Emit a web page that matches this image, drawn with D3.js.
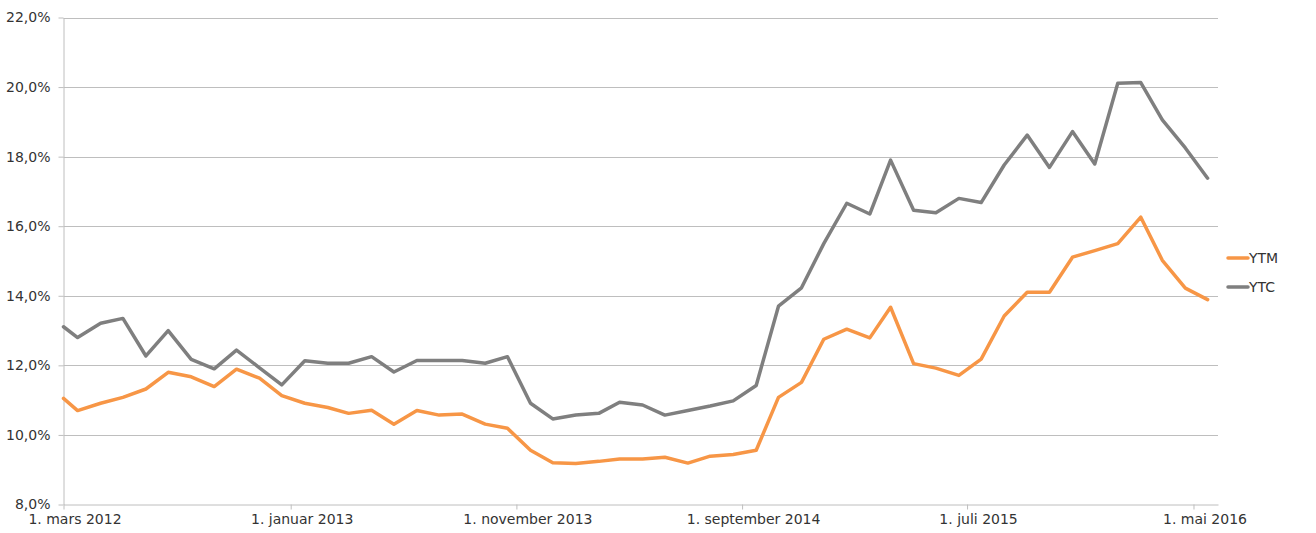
<!DOCTYPE html>
<html>
<head>
<meta charset="utf-8">
<script src="https://cdn.jsdelivr.net/npm/d3@7"></script>
<style>
    body { margin: 0; background: #fff; }
    text { font-family: "DejaVu Sans", sans-serif; }
</style>
</head>
<body>
<div id="chart-area"></div>
<script>
// Observation dates (first value at start of axis, then around the 20th each month)
const dates = [
    "2012-03-01", "2012-03-20", "2012-04-20", "2012-05-20", "2012-06-20", "2012-07-20",
    "2012-08-20", "2012-09-20", "2012-10-20", "2012-11-20", "2012-12-20", "2013-01-20",
    "2013-02-20", "2013-03-20", "2013-04-20", "2013-05-20", "2013-06-20", "2013-07-20",
    "2013-08-20", "2013-09-20", "2013-10-20", "2013-11-20", "2013-12-20", "2014-01-20",
    "2014-02-20", "2014-03-20", "2014-04-20", "2014-05-20", "2014-06-20", "2014-07-20",
    "2014-08-20", "2014-09-20", "2014-10-20", "2014-11-20", "2014-12-20", "2015-01-20",
    "2015-02-20", "2015-03-20", "2015-04-20", "2015-05-20", "2015-06-20", "2015-07-20",
    "2015-08-20", "2015-09-20", "2015-10-20", "2015-11-20", "2015-12-20", "2016-01-20",
    "2016-02-20", "2016-03-20", "2016-04-20", "2016-05-20"
];

// Yields in percent
const ytm = [
    11.05, 10.70, 10.91, 11.08, 11.32, 11.80, 11.67, 11.39, 11.89, 11.63,
    11.13, 10.91, 10.79, 10.62, 10.71, 10.31, 10.70, 10.57, 10.60, 10.31,
    10.19, 9.56, 9.20, 9.18, 9.24, 9.31, 9.31, 9.36, 9.19, 9.39,
    9.44, 9.56, 11.08, 11.51, 12.75, 13.04, 12.79, 13.67, 12.05, 11.92,
    11.71, 12.18, 13.42, 14.10, 14.10, 15.11, 15.30, 15.50, 16.26, 15.02,
    14.22, 13.89
];
const ytc = [
    13.11, 12.80, 13.21, 13.35, 12.27, 13.00, 12.17, 11.90, 12.44, 11.93,
    11.44, 12.13, 12.06, 12.06, 12.25, 11.81, 12.14, 12.14, 12.14, 12.06,
    12.25, 10.91, 10.46, 10.57, 10.62, 10.94, 10.86, 10.57, 10.70, 10.83,
    10.98, 11.42, 13.70, 14.23, 15.50, 16.66, 16.35, 17.90, 16.46, 16.39,
    16.80, 16.68, 17.76, 18.62, 17.69, 18.72, 17.79, 20.11, 20.13, 19.06,
    18.25, 17.38
];

const seriesNames = ["YTM", "YTC"];
const seriesColors = ["#F79646", "#7F7F7F"];

const xTickDates = ["2012-03-01", "2013-01-01", "2013-11-01", "2014-09-01", "2015-07-01", "2016-05-01"];
const xDomain = ["2012-03-01", "2016-06-03"];
const yTicks = [8, 10, 12, 14, 16, 18, 20, 22];
const monthNames = ["januar", "februar", "mars", "april", "mai", "juni",
    "juli", "august", "september", "oktober", "november", "desember"];

class YieldChart {
    constructor(element) {
        this.parentElement = element;
        this.initVis();
    }

    initVis() {
        const vis = this;
        const parse = d3.utcParse("%Y-%m-%d");

        vis.WIDTH = 1316;
        vis.HEIGHT = 533;
        vis.PLOT = { LEFT: 63.5, RIGHT: 1218, TOP: 17.5, BOTTOM: 504.5 };

        vis.svg = d3.select(vis.parentElement).append("svg")
            .attr("width", vis.WIDTH)
            .attr("height", vis.HEIGHT);

        vis.x = d3.scaleUtc()
            .domain(xDomain.map(parse))
            .range([vis.PLOT.LEFT, vis.PLOT.RIGHT]);
        vis.y = d3.scaleLinear()
            .domain([8, 22])
            .range([vis.PLOT.BOTTOM, vis.PLOT.TOP]);

        // gridlines
        vis.svg.append("g")
            .selectAll("line")
            .data(yTicks.slice(1))
            .join("line")
            .attr("x1", vis.PLOT.LEFT)
            .attr("x2", vis.PLOT.RIGHT)
            .attr("y1", d => Math.round(vis.y(d)) + 0.5)
            .attr("y2", d => Math.round(vis.y(d)) + 0.5)
            .attr("stroke", "#BEBEBE")
            .attr("stroke-width", 1);

        // y axis
        const yAxis = d3.axisLeft(vis.y)
            .tickValues(yTicks)
            .tickSize(5)
            .tickSizeOuter(0)
            .tickPadding(8)
            .tickFormat(d => d.toFixed(1).replace(".", ",") + "%");
        vis.yAxisGroup = vis.svg.append("g")
            .attr("transform", `translate(${vis.PLOT.LEFT}, 0)`)
            .call(yAxis);

        // x axis
        const fmt = d => `1. ${monthNames[d.getUTCMonth()]} ${d.getUTCFullYear()}`;
        const xAxis = d3.axisBottom(vis.x)
            .tickValues(xTickDates.map(parse))
            .tickSize(5)
            .tickSizeOuter(0)
            .tickPadding(5)
            .tickFormat(fmt);
        vis.xAxisGroup = vis.svg.append("g")
            .attr("transform", `translate(0, ${vis.PLOT.BOTTOM})`)
            .call(xAxis);
        vis.xAxisGroup.selectAll("text").attr("dx", 11);

        [vis.xAxisGroup, vis.yAxisGroup].forEach(g => {
            g.select(".domain").attr("stroke", "#BEBEBE");
            g.selectAll(".tick line").attr("stroke", "#BEBEBE");
            g.selectAll("text")
                .attr("fill", "#333")
                .style("font-size", "14px")
                .style("font-family", "'DejaVu Sans', sans-serif");
        });

        // lines
        const series = [ytm, ytc].map((vals, i) => ({
            name: seriesNames[i],
            color: seriesColors[i],
            values: vals.map((v, j) => ({ date: parse(dates[j]), value: v }))
        }));

        vis.line = d3.line()
            .x(d => vis.x(d.date))
            .y(d => vis.y(d.value));

        vis.svg.selectAll(".series")
            .data(series)
            .join("path")
            .attr("class", "series")
            .attr("d", d => vis.line(d.values))
            .attr("fill", "none")
            .attr("stroke", d => d.color)
            .attr("stroke-width", 3.5)
            .attr("stroke-linejoin", "round")
            .attr("stroke-linecap", "round");

        // legend
        const legend = vis.svg.selectAll(".legend")
            .data(series)
            .join("g")
            .attr("class", "legend")
            .attr("transform", (d, i) => `translate(1228, ${258 + i * 29})`);
        legend.append("line")
            .attr("x1", 0)
            .attr("x2", 20)
            .attr("stroke", d => d.color)
            .attr("stroke-width", 3.5)
            .attr("stroke-linecap", "round");
        legend.append("text")
            .attr("x", 21)
            .attr("dy", "0.36em")
            .attr("fill", "#333")
            .style("font-size", "14px")
            .text(d => d.name);
    }
}

new YieldChart("#chart-area");
</script>
</body>
</html>
